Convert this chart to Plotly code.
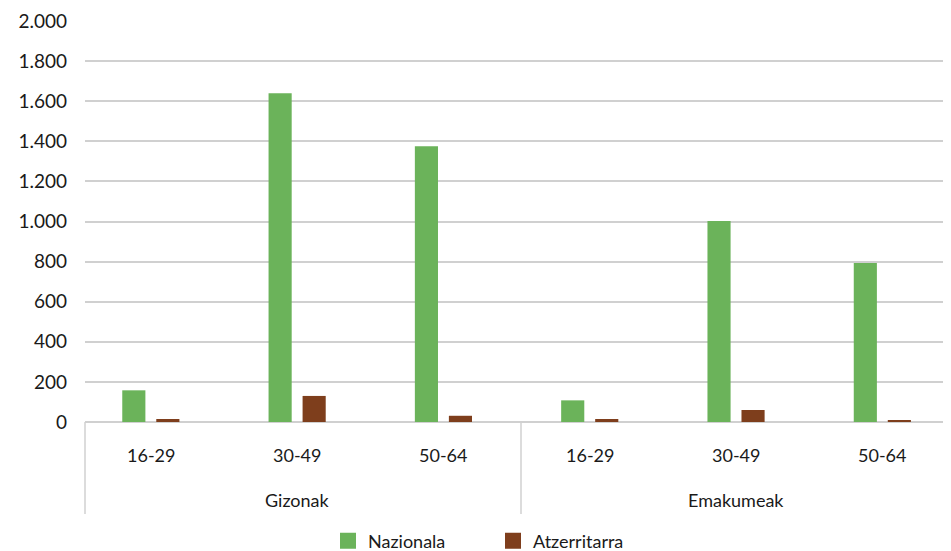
import plotly.graph_objects as go

groups = ["Gizonak", "Gizonak", "Gizonak", "Emakumeak", "Emakumeak", "Emakumeak"]
ages = ["16-29", "30-49", "50-64", "16-29", "30-49", "50-64"]
nazionala = [158, 1640, 1375, 108, 1003, 793]
atzerritarra = [15, 130, 31, 15, 60, 8]
y_ticks = [0, 200, 400, 600, 800, 1000, 1200, 1400, 1600, 1800, 2000]
series_names = ["Nazionala", "Atzerritarra"]
series_colors = ["#6BB35A", "#7E3E1C"]

FONT = "Lato"
TXT = "#1a1a1a"
GRID = "#d0d0d0"

# the page body has an 8px margin: size the figure to fill the window exactly
OFF = 8
W, H = 951 - OFF, 551 - OFF
PL, PT, PZ = 85, 20, 422          # page px: plot left, plot top, zero line
L = PL - OFF
T = PT - OFF
plot_w = W - L
plot_h = PZ - PT
B = H - (PZ - OFF)
cat_w = 146.3
x0 = -0.45
x1 = x0 + plot_w / cat_w


def py(page_y):
    return -(page_y - PZ) / plot_h


def px(page_x):
    return (page_x - PL) / plot_w


fig = go.Figure()
for name, vals, col in zip(series_names, [nazionala, atzerritarra], series_colors):
    fig.add_trace(go.Bar(x=[groups, ages], y=vals, name=name, showlegend=False,
                         marker=dict(color=col, line=dict(width=0))))
# legend-only entries with larger square swatches
for name, col in zip(series_names, series_colors):
    fig.add_trace(go.Scatter(x=[None], y=[None], name=name, mode="markers",
                             marker=dict(symbol="square", size=16, color=col),
                             showlegend=True, hoverinfo="skip"))

fig.update_layout(
    width=W, height=H,
    margin=dict(l=L, r=0, t=T, b=B, pad=0, autoexpand=False),
    paper_bgcolor="white", plot_bgcolor="white",
    separators=",.",
    font=dict(family=FONT, size=18, color=TXT),
    barmode="group", bargap=0.535, bargroupgap=0.32,
    showlegend=True,
    legend=dict(orientation="h", x=px(328), xanchor="left",
                y=py(541), yanchor="middle",
                entrywidth=120, entrywidthmode="pixels",
                font=dict(family=FONT, size=18, color=TXT),
                itemwidth=30, traceorder="normal"),
    xaxis=dict(type="multicategory", range=[x0, x1], automargin=False,
               showdividers=False, showgrid=False, showline=False,
               ticks="", showticklabels=False),
    yaxis=dict(range=[0, 2005], tickvals=y_ticks, tickformat=",d",
               automargin=False,
               showgrid=True, gridcolor=GRID, gridwidth=1.5,
               zeroline=True, zerolinecolor=GRID, zerolinewidth=1.5,
               showline=False, ticks="", ticklabelstandoff=17,
               tickfont=dict(family=FONT, size=19, color=TXT)),
)

# category-axis labels (two levels)
span = x1 - x0
for i, a in enumerate(ages):
    fig.add_annotation(text=a, xref="x domain", yref="paper",
                       x=(i - x0) / span, y=py(455),
                       showarrow=False, xanchor="center", yanchor="middle",
                       font=dict(family=FONT, size=18, color=TXT))
group_names = list(dict.fromkeys(groups))
for g in group_names:
    idx = [i for i, gg in enumerate(groups) if gg == g]
    c = sum(idx) / len(idx)
    fig.add_annotation(text=g, xref="x domain", yref="paper",
                       x=(c - x0) / span, y=py(500),
                       showarrow=False, xanchor="center", yanchor="middle",
                       font=dict(family=FONT, size=18, color=TXT))

# group dividers of the category axis
for xp in [px(85), px(521)]:
    fig.add_shape(type="line", xref="paper", yref="paper",
                  x0=xp, x1=xp, y0=0, y1=py(514),
                  line=dict(color=GRID, width=1.5))

fig.write_html("out.html")
